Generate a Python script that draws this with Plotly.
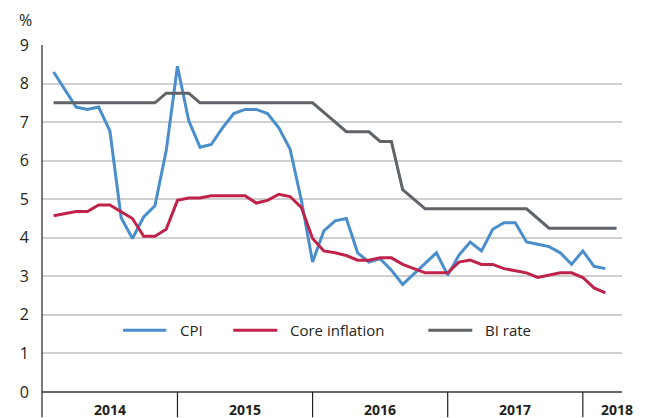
import plotly.graph_objects as go

# ---- data ----
months = [f"{y}-{m:02d}" for y in range(2014, 2019) for m in range(1, 13)][:51]  # Jan 2014 .. Mar 2018
years = ["2014", "2015", "2016", "2017", "2018"]

cpi = [8.30, 7.85, 7.39, 7.33, 7.39, 6.77, 4.52, 3.98, 4.54, 4.83, 6.26, 8.45,
       7.04, 6.35, 6.42, 6.85, 7.22, 7.33, 7.33, 7.22, 6.85, 6.30, 4.98, 3.37,
       4.18, 4.44, 4.50, 3.61, 3.37, 3.46, 3.16, 2.79, 3.07, 3.33, 3.61, 3.03,
       3.55, 3.89, 3.66, 4.22, 4.39, 4.39, 3.89, 3.83, 3.77, 3.61, 3.31, 3.66,
       3.26, 3.20]

core = [4.57, 4.62, 4.68, 4.68, 4.85, 4.85, 4.68, 4.50, 4.04, 4.04, 4.22, 4.97,
        5.03, 5.03, 5.09, 5.09, 5.09, 5.09, 4.90, 4.97, 5.13, 5.07, 4.79, 3.98,
        3.66, 3.61, 3.54, 3.42, 3.42, 3.48, 3.48, 3.31, 3.20, 3.09, 3.09, 3.09,
        3.37, 3.42, 3.31, 3.31, 3.20, 3.14, 3.09, 2.97, 3.03, 3.09, 3.09, 2.97,
        2.70, 2.57]

bi_rate = [7.50, 7.50, 7.50, 7.50, 7.50, 7.50, 7.50, 7.50, 7.50, 7.50, 7.75, 7.75,
           7.75, 7.50, 7.50, 7.50, 7.50, 7.50, 7.50, 7.50, 7.50, 7.50, 7.50, 7.50,
           7.25, 7.00, 6.75, 6.75, 6.75, 6.50, 6.50, 5.25, 5.00, 4.75, 4.75, 4.75,
           4.75, 4.75, 4.75, 4.75, 4.75, 4.75, 4.75, 4.50, 4.25, 4.25, 4.25, 4.25,
           4.25, 4.25, 4.25]

series_names = ["CPI", "Core inflation", "BI rate"]
y_ticks = list(range(0, 10))

# ---- styling ----
FONT = "Open Sans"
TXT = "#231f20"
colors = ["#4a8fcc", "#c0234a", "#606468"]

idx = list(range(len(months)))

fig = go.Figure()
for name, vals, col in zip(series_names, [cpi, core, bi_rate], colors):
    fig.add_trace(go.Scatter(x=idx[:len(vals)], y=vals, mode="lines", name=name,
                             line=dict(color=col, width=3), showlegend=False))

shapes = []
annotations = []
below = -0.073
# left axis line extended below plot
shapes.append(dict(type="line", xref="paper", yref="paper", x0=0, x1=0, y0=below, y1=1,
                   line=dict(color=TXT, width=1.2)))
# year separators and labels
year_of = [m[:4] for m in months]
for yr in years:
    ids = [i for i, y in enumerate(year_of) if y == yr]
    first, last = ids[0], ids[-1]
    if len(ids) == 12:
        if last < len(months) - 1:
            shapes.append(dict(type="line", xref="x", yref="paper", x0=last, x1=last,
                               y0=below, y1=0, line=dict(color=TXT, width=1.2)))
        xc = (first - 1 + last) / 2
    else:
        xc = last
    annotations.append(dict(x=xc, y=-0.05, xref="x", yref="paper", text=f"<b>{yr}</b>",
                            showarrow=False, xanchor="center", yanchor="middle",
                            font=dict(family=FONT, size=14, color=TXT)))
annotations.append(dict(x=-0.029, y=1.072, xref="paper", yref="paper", text="%",
                        showarrow=False, xanchor="center", yanchor="middle",
                        font=dict(family=FONT, size=16, color=TXT)))

# legend (drawn inside the plot, below the lines)
leg_y = 0.178
leg_items = [(0.1397, 0.2143, 0.234), (0.3298, 0.4057, 0.424), (0.666, 0.7419, 0.760)]
for (x0, x1, xt), name, col in zip(leg_items, series_names, colors):
    shapes.append(dict(type="line", xref="paper", yref="paper", x0=x0, x1=x1,
                       y0=leg_y, y1=leg_y, line=dict(color=col, width=3)))
    annotations.append(dict(x=xt, y=leg_y, xref="paper", yref="paper", text=name,
                            showarrow=False, xanchor="left", yanchor="middle",
                            font=dict(family=FONT, size=15, color=TXT)))

fig.update_layout(
    width=642, height=410,
    margin=dict(l=34, r=28, t=37, b=26),
    paper_bgcolor="white", plot_bgcolor="white",
    font=dict(family=FONT, size=14, color=TXT),
    showlegend=False,
    xaxis=dict(range=[-1.03, 50.48], showgrid=False, zeroline=False, showline=False,
               showticklabels=False, ticks=""),
    yaxis=dict(range=[0, 9], tickvals=y_ticks, showgrid=True, gridcolor="#d0d0d0",
               gridwidth=1.5, zeroline=True, zerolinecolor="#6a6a6a", zerolinewidth=2,
               showline=False, ticks="", ticklabelstandoff=12,
               tickfont=dict(family=FONT, size=16, color=TXT)),
    shapes=shapes,
    annotations=annotations,
)

fig.write_html("out.html")
